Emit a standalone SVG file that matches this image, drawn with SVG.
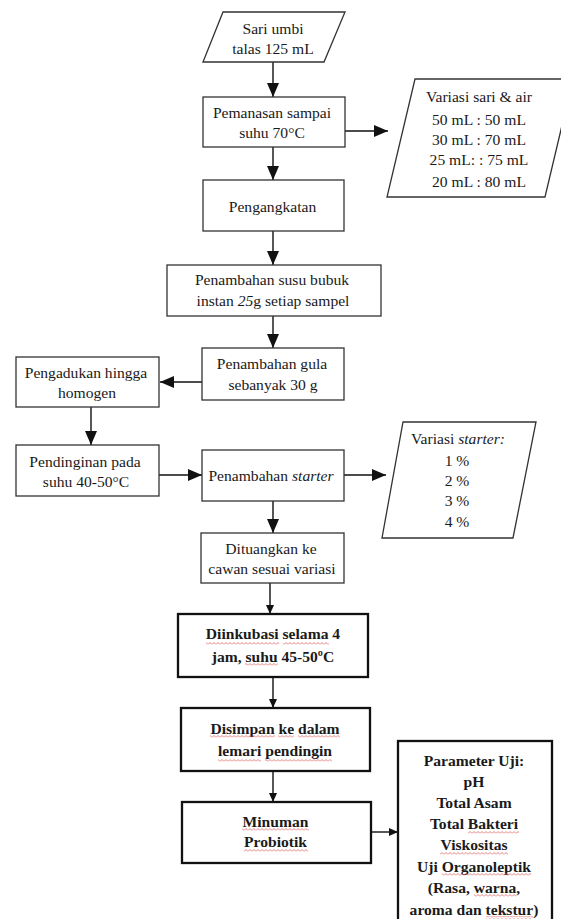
<svg xmlns="http://www.w3.org/2000/svg" width="561" height="919" viewBox="0 0 561 919">
<style>
.box{fill:#fff;stroke:#333;stroke-width:1.3}
.bbox{fill:#fff;stroke:#111;stroke-width:2.3}
.t{font-family:"Liberation Serif","Times New Roman",serif;font-size:15.6px;fill:#1a1a1a;text-anchor:middle}
.b{font-weight:bold}
.i{font-style:italic}
.c{stroke:#111;stroke-width:1.4;fill:none}
.sq{fill:url(#sq)}
</style>
<defs>
<marker id="ah" markerUnits="userSpaceOnUse" markerWidth="14" markerHeight="12" refX="14" refY="6" orient="auto"><path d="M0,0 L14,6 L0,12 z" fill="#111"/></marker>
<marker id="as" markerUnits="userSpaceOnUse" markerWidth="9" markerHeight="8" refX="9" refY="4" orient="auto"><path d="M0,0 L9,4 L0,8 z" fill="#111"/></marker>
<pattern id="sq" patternUnits="userSpaceOnUse" width="4" height="3"><path d="M0,2.5 L2,0.5 L4,2.5" stroke="#e06060" stroke-width="0.8" fill="none"/></pattern>
</defs>
<rect width="561" height="919" fill="#fff"/>

<g id="connectors">
<path class="c" d="M273,62 V97" marker-end="url(#ah)"/>
<path class="c" d="M345,131 H388" marker-end="url(#ah)"/>
<path class="c" d="M273,147 V180" marker-end="url(#ah)"/>
<path class="c" d="M273,231 V265" marker-end="url(#ah)"/>
<path class="c" d="M273,316 V348" marker-end="url(#ah)"/>
<path class="c" d="M202,382 H160" marker-end="url(#ah)"/>
<path class="c" d="M91,407 V445" marker-end="url(#ah)"/>
<path class="c" d="M159,475 H202" marker-end="url(#ah)"/>
<path class="c" d="M344,475 H386" marker-end="url(#ah)"/>
<path class="c" d="M273,501 V533" marker-end="url(#ah)"/>
<path class="c" d="M270,583 V614" marker-end="url(#as)"/>
<path class="c" d="M273,677 V708" marker-end="url(#as)"/>
<path class="c" d="M273,771 V802" marker-end="url(#as)"/>
<path class="c" d="M371,832 H398" marker-end="url(#as)"/>
</g>

<g id="sari">
<polygon class="box" points="223,12 345,12 324,62 203,62"/>
<text class="t" x="273" y="34">Sari umbi</text>
<text class="t" x="273" y="54">talas 125 mL</text>
</g>

<g id="pemanasan">
<rect class="box" x="203" y="97" width="142" height="50"/>
<text class="t" x="272" y="118">Pemanasan sampai</text>
<text class="t" x="272" y="138">suhu 70°C</text>
</g>

<g id="variasi-sari">
<polygon class="box" points="415,79 573,79 545,197 387,197"/>
<text class="t" x="479" y="102">Variasi sari &amp; air</text>
<text class="t" x="479" y="125">50 mL : 50 mL</text>
<text class="t" x="479" y="145">30 mL : 70 mL</text>
<text class="t" x="479" y="165">25 mL: : 75 mL</text>
<text class="t" x="479" y="187">20 mL : 80 mL</text>
</g>

<g id="pengangkatan">
<rect class="box" x="203" y="180" width="141" height="51"/>
<text class="t" x="272.5" y="212">Pengangkatan</text>
</g>

<g id="susu">
<rect class="box" x="167" y="265" width="214" height="51"/>
<text class="t" x="272" y="285">Penambahan susu bubuk</text>
<text class="t" x="273" y="306">instan <tspan class="i">25</tspan>g setiap sampel</text>
</g>

<g id="gula">
<rect class="box" x="202" y="348" width="142" height="52"/>
<text class="t" x="272" y="369">Penambahan gula</text>
<text class="t" x="273" y="390">sebanyak 30 g</text>
</g>

<g id="pengadukan">
<rect class="box" x="16" y="357" width="143" height="50"/>
<text class="t" x="86" y="378">Pengadukan hingga</text>
<text class="t" x="87" y="398">homogen</text>
</g>

<g id="pendinginan">
<rect class="box" x="16" y="445" width="143" height="51"/>
<text class="t" x="85" y="467">Pendinginan pada</text>
<text class="t" x="86" y="487">suhu 40-50°C</text>
</g>

<g id="starter">
<rect class="box" x="202" y="450" width="142" height="51"/>
<text class="t" x="271" y="481">Penambahan <tspan class="i">starter</tspan></text>
</g>

<g id="variasi-starter">
<polygon class="box" points="403,422 536,422 513,538 382,538"/>
<text class="t" x="458" y="444">Variasi <tspan class="i">starter:</tspan></text>
<text class="t" x="457" y="466">1 %</text>
<text class="t" x="457" y="486">2 %</text>
<text class="t" x="457" y="506">3 %</text>
<text class="t" x="457" y="527">4 %</text>
</g>

<g id="dituangkan">
<rect class="box" x="201" y="533" width="143" height="50"/>
<text class="t" x="271" y="554">Dituangkan ke</text>
<text class="t" x="272" y="574">cawan sesuai variasi</text>
</g>

<g id="diinkubasi">
<rect class="bbox" x="178" y="614" width="190" height="63"/>
<text class="t b" x="273" y="639">Diinkubasi selama 4</text>
<text class="t b" x="273" y="662">jam, suhu 45-50ºC</text>
<rect class="sq" x="206" y="642" width="73" height="3"/>
<rect class="sq" x="283" y="642" width="46" height="3"/>
<rect class="sq" x="245" y="663" width="33" height="3"/>
</g>

<g id="disimpan">
<rect class="bbox" x="181" y="708" width="189" height="63"/>
<text class="t b" x="275" y="734">Disimpan ke dalam</text>
<text class="t b" x="275" y="756">lemari pendingin</text>
<rect class="sq" x="210" y="735" width="65" height="3"/>
<rect class="sq" x="278" y="735" width="16" height="3"/>
<rect class="sq" x="298" y="735" width="42" height="3"/>
<rect class="sq" x="218" y="759" width="43" height="3"/>
<rect class="sq" x="265" y="759" width="67" height="3"/>
</g>

<g id="minuman">
<rect class="bbox" x="182" y="802" width="189" height="61"/>
<text class="t b" x="275.5" y="827">Minuman</text>
<text class="t b" x="275.5" y="847">Probiotik</text>
<rect class="sq" x="242" y="828" width="67" height="3"/>
<rect class="sq" x="244" y="849" width="64" height="3"/>
</g>

<g id="parameter">
<rect class="bbox" x="398" y="741" width="154" height="190"/>
<text class="t b" x="474" y="766">Parameter Uji:</text>
<text class="t b" x="474" y="787">pH</text>
<text class="t b" x="474" y="808">Total Asam</text>
<text class="t b" x="474" y="829">Total Bakteri</text>
<text class="t b" x="474" y="850">Viskositas</text>
<text class="t b" x="474" y="872">Uji Organoleptik</text>
<text class="t b" x="474" y="893">(Rasa, warna,</text>
<text class="t b" x="474" y="915">aroma dan tekstur)</text>
<rect class="sq" x="468" y="831" width="51" height="3"/>
<rect class="sq" x="440" y="852" width="68" height="3"/>
<rect class="sq" x="442" y="873" width="89" height="3"/>
<rect class="sq" x="474" y="894" width="42" height="3"/>
<rect class="sq" x="486" y="916" width="47" height="3"/>
</g>
</svg>
